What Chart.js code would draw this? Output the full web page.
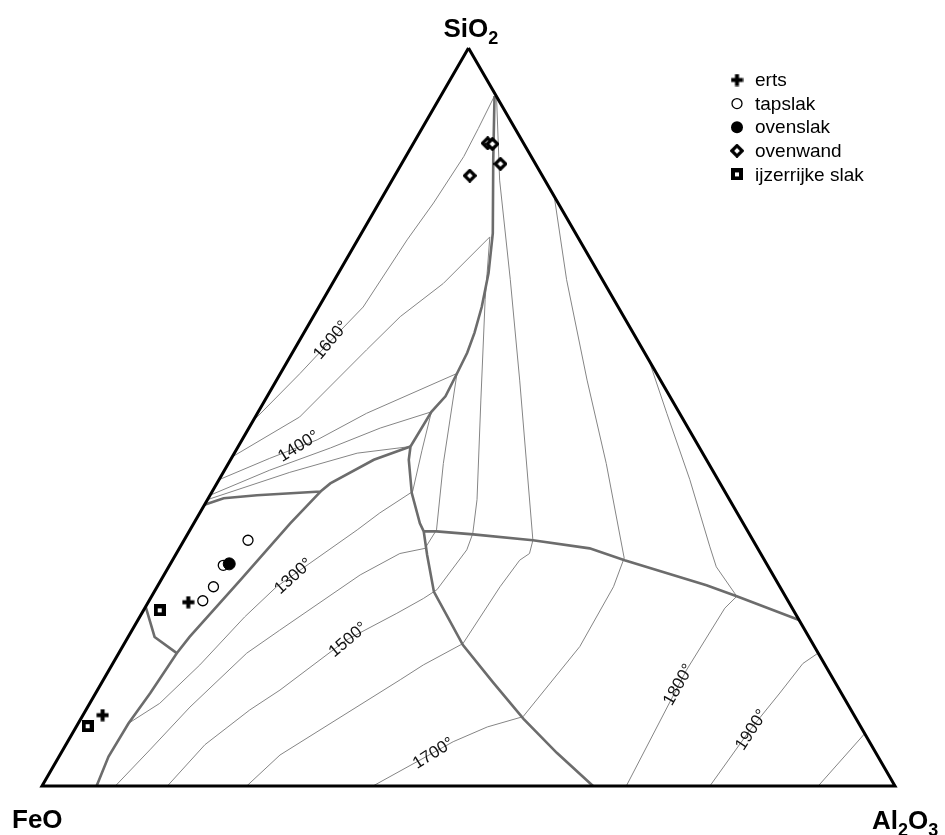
<!DOCTYPE html>
<html>
<head>
<meta charset="utf-8">
<title>FeO - SiO2 - Al2O3</title>
<script src="https://cdn.jsdelivr.net/npm/chart.js"></script>
<style>
  html, body { margin: 0; padding: 0; background: #fff; }
  #wrap { width: 945px; height: 835px; }
</style>
</head>
<body>
<div id="wrap"><canvas id="ternary" width="945" height="835"></canvas></div>
<script>
// every point is [SiO2 %, Al2O3 %]; FeO is whatever is left
const triangle = [[100, 0], [0, 0], [0, 100], [100, 0]];

// samples
const erts = [[24.9, 4.7], [9.6, 2.3]];
const tapslak = [[25.1, 6.3], [27.0, 6.6], [29.9, 6.3], [33.3, 7.5]];
const ovenslak = [[30.1, 6.9]];
const ovenwand = [[87.1, 8.7], [87.0, 9.3], [84.3, 11.6], [82.7, 8.8]];
const ijzerrijkeSlak = [[23.8, 1.9], [8.1, 1.3]];

const seriesNames = ['erts', 'tapslak', 'ovenslak', 'ovenwand', 'ijzerrijke slak'];

// field boundaries (thick grey)
const boundarySilica = [[93.5, 6.3], [84.8, 10.5], [74.9, 15.4], [69.5, 17.6], [64.9, 19.1], [61.4, 20.0],
  [58.7, 20.5], [55.9, 20.7], [52.8, 20.9], [50.7, 20.3], [46.0, 20.2], [44.2, 20.9], [39.7, 23.5],
  [35.6, 26.5], [34.5, 27.5], [31.3, 29.5], [26.3, 32.8], [22.8, 36.2], [19.1, 39.8], [14.0, 45.9],
  [9.1, 51.9], [4.5, 58.1], [0, 64.6]];
const boundaryFayalite = [[46.0, 20.2], [44.2, 16.8], [41.0, 13.3], [39.9, 12.7], [39.4, 5.5], [39.0, 1.8], [38.1, 0]];
const boundaryWustite = [[39.9, 12.7], [35.6, 11.3], [27.9, 9.3], [20.2, 7.2], [18.0, 6.8], [12.6, 6.4],
  [8.5, 5.9], [4.0, 5.8], [0, 6.4]];
const boundarySmall = [[24.3, 0], [20.2, 3.1], [18.0, 6.8]];
const boundaryMullite = [[34.5, 27.5], [34.5, 29.0], [34.1, 33.5], [33.3, 40.9], [32.2, 48.1], [30.6, 53.0],
  [27.2, 64.3], [25.7, 68.6], [22.5, 77.5]];

// isotherms (thin grey)
const iso1250 = [[38.8, 0], [42.5, 7.8], [45.1, 14.4], [46.0, 20.2]];
const iso1300 = [[39.4, 0], [42.8, 5.3], [45.8, 10.9], [48.5, 15.4], [50.7, 20.3], [45.5, 21.8], [39.9, 23.5],
  [37.0, 21.1], [34.7, 19.6], [27.0, 14.0], [22.9, 12.3], [16.4, 10.3], [11.2, 8.2], [8.5, 5.9]];
const iso1400 = [[41.5, 0], [44.4, 4.5], [46.9, 8.8], [50.5, 12.8], [55.9, 20.7], [43.7, 25.2], [34.7, 28.9],
  [32.2, 28.8], [31.5, 26.2], [28.6, 23.0], [21.1, 17.3], [18.0, 15.0], [10.7, 12.0], [4.9, 10.2], [0, 8.6]];
const iso1500 = [[44.6, 0], [50.0, 5.2], [59.1, 8.5], [63.6, 10.2], [68.1, 13.0], [74.4, 15.3], [65.9, 19.0],
  [52.3, 25.3], [38.8, 31.6], [34.2, 33.4], [32.0, 33.8], [26.6, 33.0], [25.4, 32.0], [23.4, 29.9],
  [19.8, 25.8], [13.0, 21.4], [10.3, 19.2], [5.6, 16.3], [0, 14.7]];
const iso1600 = [[49.4, 0], [55.9, 2.3], [60.4, 3.7], [64.9, 5.2], [74.0, 5.8], [79.0, 6.4], [85.3, 6.8],
  [89.1, 6.6], [93.4, 6.3], [93.0, 6.8], [82.1, 12.6], [68.6, 20.6], [55.0, 28.5], [33.3, 40.9], [31.5, 41.4],
  [30.6, 40.7], [27.0, 40.2], [19.3, 39.7], [16.4, 36.5], [14.4, 34.8], [4.2, 25.8], [0, 24.0]];
const iso1700 = [[79.9, 20.1], [68.6, 27.2], [55.0, 36.4], [43.7, 44.3], [30.9, 52.8], [27.0, 53.5],
  [18.9, 53.6], [9.4, 51.7], [8.0, 48.2], [6.0, 45.2], [0, 38.8]];
const iso1800 = [[57.7, 42.3], [50.5, 48.0], [41.5, 55.2], [32.4, 62.1], [29.7, 64.2], [25.7, 68.6],
  [24.1, 68.0], [15.7, 67.7], [0, 68.5]];
const iso1900 = [[17.9, 81.9], [16.6, 80.9], [12.6, 80.2], [7.6, 79.2], [0, 78.3]];
const iso2000 = [[7.1, 92.9], [0, 91.0]];

const isothermTexts = ['1600°', '1400°', '1300°', '1500°', '1700°', '1800°', '1900°'];

// ---------------------------------------------------------------

const tern = ([si, al]) => ({ x: al + si / 2, y: si });

// where the isotherm labels sit (same [SiO2, Al2O3] frame) and their tilt
const labelSpots = [[60.4, 3.7], [46.0, 7.1], [28.4, 15.3], [19.8, 26.0], [4.4, 43.7], [13.7, 67.8], [7.6, 79.4]];
const labelTilt = [-50, -32, -42, -40, -32, -60, -57];

function markerImage(kind) {
  const c = document.createElement('canvas');
  const g = c.getContext('2d');
  if (kind === 'plus') {
    c.width = 13; c.height = 13;
    g.fillStyle = '#000';
    g.fillRect(4.5, 0.5, 4, 12);
    g.fillRect(0.5, 4.5, 12, 4);
  } else if (kind === 'square') {
    c.width = 12; c.height = 12;
    g.fillStyle = '#000';
    g.fillRect(0, 0, 12, 12);
    g.fillStyle = '#fff';
    g.fillRect(4, 4, 4, 4);
  } else if (kind === 'diamond') {
    c.width = 14; c.height = 14;
    g.strokeStyle = '#000';
    g.lineWidth = 3.2;
    g.fillStyle = '#fff';
    g.beginPath();
    g.moveTo(7, 1.8); g.lineTo(12.2, 7); g.lineTo(7, 12.2); g.lineTo(1.8, 7); g.closePath();
    g.fill(); g.stroke();
  }
  return c;
}

const plusImg = markerImage('plus');
const squareImg = markerImage('square');
const diamondImg = markerImage('diamond');

function curve(pts, thick, order) {
  return {
    data: pts.map(tern),
    showLine: true,
    borderColor: thick ? '#6c6c6c' : '#858585',
    borderWidth: thick ? 2.6 : 1,
    pointRadius: 0,
    fill: false,
    clip: false,
    order: order
  };
}

function samples(pts, style, order) {
  return Object.assign({
    data: pts.map(tern),
    showLine: false,
    clip: false,
    order: order
  }, style);
}

const datasets = [
  samples(ovenslak, { pointStyle: 'circle', pointRadius: 6, backgroundColor: '#000', borderColor: '#000', borderWidth: 1 }, 0),
  samples(tapslak, { pointStyle: 'circle', pointRadius: 5, backgroundColor: '#fff', borderColor: '#000', borderWidth: 1.3 }, 1),
  samples(erts, { pointStyle: plusImg }, 1),
  samples(ovenwand, { pointStyle: diamondImg }, 1),
  samples(ijzerrijkeSlak, { pointStyle: squareImg }, 1),
  Object.assign(curve(triangle, true, 2), { borderColor: '#000', borderWidth: 3, borderJoinStyle: 'miter' }),
  curve(boundarySilica, true, 3),
  curve(boundaryFayalite, true, 3),
  curve(boundaryWustite, true, 3),
  curve(boundarySmall, true, 3),
  curve(boundaryMullite, true, 3),
  curve(iso1250, false, 4),
  curve(iso1300, false, 4),
  curve(iso1400, false, 4),
  curve(iso1500, false, 4),
  curve(iso1600, false, 4),
  curve(iso1700, false, 4),
  curve(iso1800, false, 4),
  curve(iso1900, false, 4),
  curve(iso2000, false, 4)
];

const FONT = '"Liberation Sans", Arial, Helvetica, sans-serif';

// text with a subscript part: parts = [[text, isSub], ...]
function drawFormula(ctx, parts, x, y) {
  let cx = x;
  parts.forEach(([t, sub]) => {
    ctx.font = (sub ? 'bold 18px ' : 'bold 26px ') + FONT;
    ctx.fillText(t, cx, sub ? y + 7 : y);
    cx += ctx.measureText(t).width;
  });
}

const decorations = {
  id: 'decorations',
  afterDatasetsDraw(chart) {
    const { ctx, scales } = chart;
    const px = p => scales.x.getPixelForValue(tern(p).x);
    const py = p => scales.y.getPixelForValue(tern(p).y);
    ctx.save();
    ctx.fillStyle = '#000';
    ctx.textBaseline = 'alphabetic';

    // vertex names
    const top = [100, 0], left = [0, 0], right = [0, 100];
    drawFormula(ctx, [['SiO', false], ['2', true]], px(top) - 25, py(top) - 11);
    drawFormula(ctx, [['FeO', false]], px(left) - 30, py(left) + 42);
    drawFormula(ctx, [['Al', false], ['2', true], ['O', false], ['3', true]], px(right) - 23, py(right) + 43);

    // isotherm labels
    ctx.font = '17px ' + FONT;
    ctx.fillStyle = '#111';
    ctx.textAlign = 'center';
    ctx.textBaseline = 'middle';
    isothermTexts.forEach((t, i) => {
      ctx.save();
      ctx.translate(px(labelSpots[i]), py(labelSpots[i]));
      ctx.rotate(labelTilt[i] * Math.PI / 180);
      ctx.fillText(t, 0, 0);
      ctx.restore();
    });

    // legend
    const lx = 737, ly = 80, step = 23.6;
    ctx.textAlign = 'left';
    ctx.fillStyle = '#000';
    ctx.font = '19px ' + FONT;
    seriesNames.forEach((name, i) => {
      const y = ly + i * step;
      if (i === 0) ctx.drawImage(plusImg, lx - 6.5, y - 6.5);
      if (i === 1) {
        ctx.beginPath(); ctx.arc(lx, y, 5, 0, Math.PI * 2);
        ctx.lineWidth = 1.3; ctx.strokeStyle = '#000'; ctx.stroke();
      }
      if (i === 2) { ctx.beginPath(); ctx.arc(lx, y, 6, 0, Math.PI * 2); ctx.fill(); }
      if (i === 3) ctx.drawImage(diamondImg, lx - 7, y - 7);
      if (i === 4) ctx.drawImage(squareImg, lx - 6, y - 6);
      ctx.fillText(name, lx + 18, y + 1);
    });
    ctx.restore();
  }
};

new Chart(document.getElementById('ternary'), {
  type: 'scatter',
  data: { datasets },
  options: {
    responsive: false,
    animation: false,
    events: [],
    layout: { padding: { left: 42, right: 50, top: 48, bottom: 49 } },
    scales: {
      x: { type: 'linear', min: 0, max: 100, display: false },
      y: { type: 'linear', min: 0, max: 100, display: false }
    },
    plugins: { legend: { display: false }, tooltip: { enabled: false } }
  },
  plugins: [decorations]
});
</script>
</body>
</html>
